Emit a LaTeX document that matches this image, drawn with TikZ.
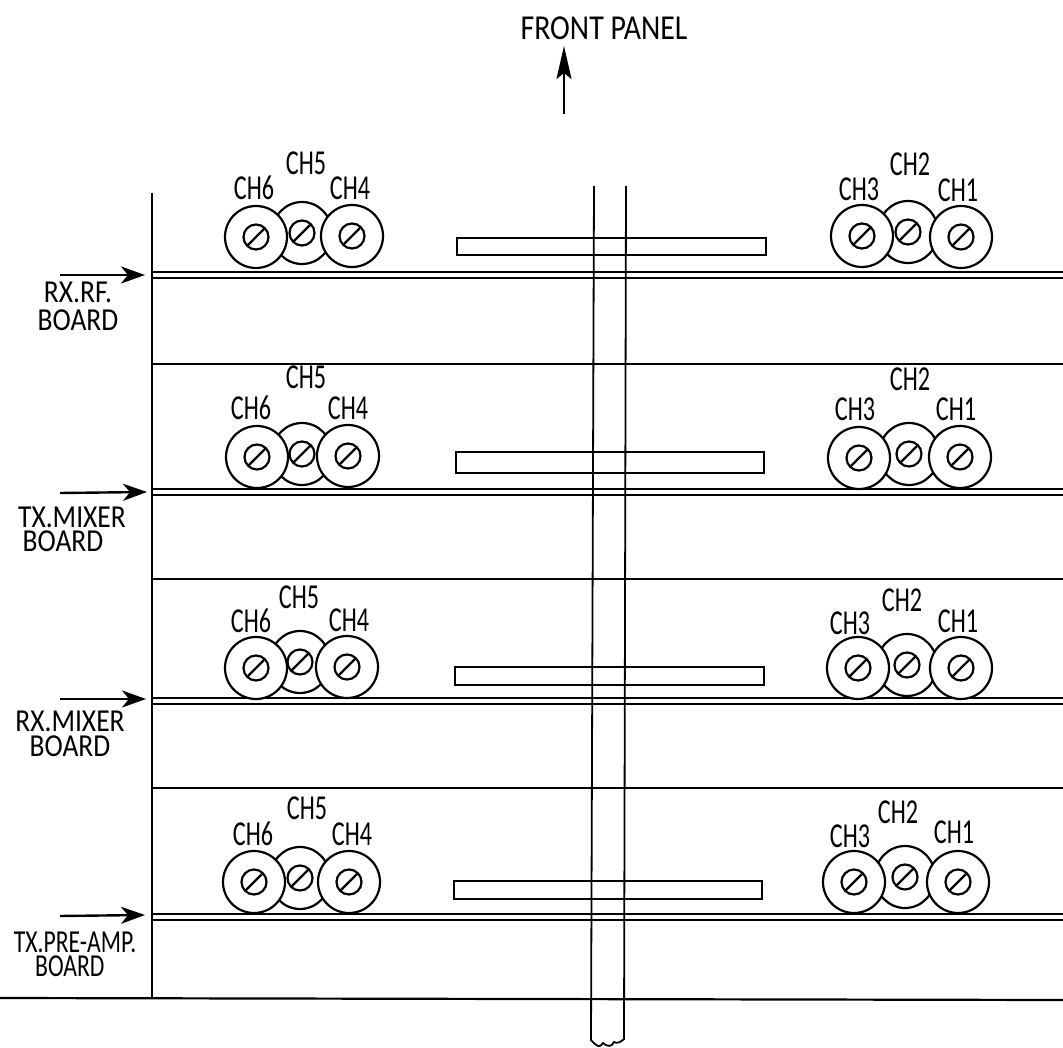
\documentclass[tikz,border=0pt]{standalone}
\usepackage{fontspec}
\setmainfont{Carlito}
\usetikzlibrary{arrows.meta}
\tikzset{
 wire/.style={line width=2.2pt,black},
 thin wire/.style={line width=1.8pt,black},
 lab/.style={font=\fontsize{35}{35}\selectfont,xscale=.69,inner sep=0pt,black},
 blab/.style={font=\fontsize{35}{35}\selectfont,xscale=.79,inner sep=0pt,black},
 mlab/.style={font=\fontsize{32}{#1}\selectfont,xscale=.86,inner sep=0pt,black,align=center},
 arrowline/.style={line width=2.4pt,-{Stealth[length=24pt,width=17pt,inset=7pt]}},
 longarrow/.style={line width=2.2pt,-{Stealth[length=33pt,width=15pt,inset=6pt]}},
}
\newcommand{\knob}[4][31]{%
 \draw[wire,fill=white] (#2,#3) ellipse[x radius=#4,y radius=#1];
 \draw[wire] (#2,#3) circle[radius=12.5];
 \draw[wire] (#2-8.8,#3+8.8) -- (#2+8.8,#3-8.8);
}
\newcommand{\knobset}[6]{%
 \knob{#3}{#4}{30}\knob{#1}{#2}{31}\knob{#5}{#6}{31}}
\begin{document}
\begin{tikzpicture}[x=1pt,y=-1pt]
\useasboundingbox[fill=white] (0,0) rectangle (1063,1048);
% frame
\draw[wire] (152,193) -- (152,998);
\foreach \y in {272,489,698,914} \draw[wire] (152,\y) -- (1063,\y);
\foreach \y in {278,495,704,920} \draw[wire] (152,\y) -- (1063,\y);
\foreach \y in {364,579,788} \draw[wire] (152,\y) -- (1063,\y);
\draw[wire] (0,998) -- (1063,1000);
% bars
\draw[wire] (457,238) rectangle (766,255);
\draw[wire] (456,452) rectangle (764,473);
\draw[wire] (455,667) rectangle (764,685);
\draw[wire] (454,881) rectangle (762,899);
% shaft
\coordinate (sa) at (594,186);
\coordinate (sb) at (626,186);
\coordinate (sc) at (591,1040);
\coordinate (sd) at (624,1039);
\draw[thin wire] (sa) -- (sc) .. controls (597,1047) and (600,1048) .. (603,1043) .. controls (607,1047) and (612,1047) .. (614,1042) .. controls (617,1044) and (621,1042) .. (sd) -- (sb);
% knobs
\knobset{256}{237}{302}{233}{352}{236}
\knobset{862}{236}{908}{232}{961}{237}
\knobset{257}{457}{302}{454}{348}{456}
\knobset{859}{458}{909}{454}{960}{457}
\knobset{256}{668}{300}{662}{347}{667}
\knobset{858}{668}{907}{665}{961}{668}
\knobset{254}{882}{300}{878}{349}{882}
\knobset{854}{882}{905}{877}{958}{882}
% channel labels
\node[lab] (a6) at (254,188) {CH6}; \node[lab] (a5) at (306,163) {CH5}; \node[lab] (a4) at (350,188) {CH4};
\node[lab] (a3) at (859,189) {CH3}; \node[lab] (a2) at (910,164) {CH2}; \node[lab] (a1) at (958,190) {CH1};
\node[lab] (b6) at (251,408) {CH6}; \node[lab] (b5) at (306,377) {CH5}; \node[lab] (b4) at (348,408) {CH4};
\node[lab] (b3) at (855,409) {CH3}; \node[lab] (b2) at (910,379) {CH2}; \node[lab] (b1) at (956,409) {CH1};
\node[lab] (c6) at (251,621) {CH6}; \node[lab] (c5) at (299,597) {CH5}; \node[lab] (c4) at (349,620) {CH4};
\node[lab] (c3) at (850,623) {CH3}; \node[lab] (c2) at (902,600) {CH2}; \node[lab] (c1) at (958,621) {CH1};
\node[lab] (d6) at (253,834) {CH6}; \node[lab] (d5) at (307,808) {CH5}; \node[lab] (d4) at (352,834) {CH4};
\node[lab] (d3) at (850,836) {CH3}; \node[lab] (d2) at (898,812) {CH2}; \node[lab] (d1) at (954,832) {CH1};
% board labels
\node[mlab=28] (r) at (78,306) {RX.RF.\\BOARD};
\node[mlab=24] (t) at (72,529.5) {TX.MIXER\\BOARD\hspace*{21pt}};
\node[mlab=25] (m) at (70,733.5) {RX.MIXER\\BOARD};
\node[mlab=24,xscale=.86] (p) at (75,954.5) {TX.PRE-AMP.\\BOARD\hspace*{14pt}};
% board arrows
\coordinate (ra) at (60,275); \coordinate (rb) at (145,275);
\coordinate (ta) at (60,493); \coordinate (tb) at (147,492);
\coordinate (ma) at (60,699); \coordinate (mb) at (146,699);
\coordinate (pa) at (60,916); \coordinate (pb) at (145,915);
\draw[arrowline] (ra) -- (rb);
\draw[arrowline] (ta) -- (tb);
\draw[arrowline] (ma) -- (mb);
\draw[arrowline] (pa) -- (pb);
% front panel
\node[blab,xscale=1.08] (fp) at (604,28) {FRONT PANEL};
\coordinate (fa) at (564,114); \coordinate (fb) at (564,46);
\draw[longarrow] (fa) -- (fb);
\end{tikzpicture}
\end{document}
